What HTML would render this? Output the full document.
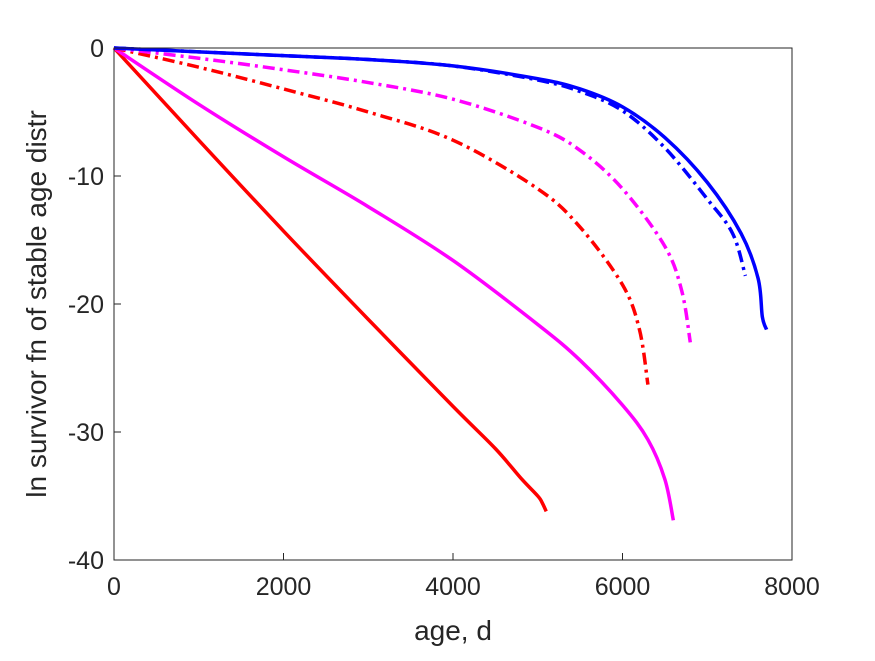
<!DOCTYPE html>
<html><head><meta charset="utf-8"><style>
body{margin:0;background:#fff;}
svg{font-family:"Liberation Sans",Arial,sans-serif;}
</style></head><body>
<svg id="chart" width="875" height="656">
<rect x="0" y="0" width="875" height="656" fill="#fff"/>
<g id="plot"></g>
<g id="axes"></g>
</svg>
<script>
const xTicks=[0,2000,4000,6000,8000];
const yTicks=[0,-10,-20,-30,-40];
const redSolidX=[0,1000,2000,3000,4000,4500,4800,5000,5050,5100];
const redSolidY=[0,-7.2,-14.3,-21.2,-28,-31.3,-33.6,-35,-35.5,-36.2];
const magSolidX=[0,1000,2000,3000,4000,5000,5500,6000,6300,6500,6600];
const magSolidY=[0,-4.4,-8.5,-12.4,-16.6,-21.6,-24.4,-27.9,-30.6,-33.7,-36.9];
const redDashX=[0,1000,2000,3000,4000,5000,5500,6000,6200,6300];
const redDashY=[0,-1.5,-3.2,-5.0,-7.2,-11,-14,-18.5,-22,-26.3];
const magDashX=[0,1000,2000,3000,4000,5000,5500,6000,6500,6700,6800];
const magDashY=[0,-0.8,-1.7,-2.7,-4.0,-6.2,-8,-11,-15.5,-19,-23];
const blueSolidX=[0,1000,2000,3000,4000,5000,5500,6000,6500,7000,7400,7600,7650,7700];
const blueSolidY=[0,-0.3,-0.6,-0.9,-1.4,-2.4,-3.2,-4.6,-7,-10.5,-14.5,-18,-21,-22];
const blueDashX=[0,1000,2000,3000,4000,5000,5500,6000,6500,7000,7300,7450];
const blueDashY=[0,-0.3,-0.6,-0.9,-1.4,-2.5,-3.4,-4.9,-7.8,-11.8,-14.5,-17.8];
const X0=114,X1=792,Y0=48,Y1=560;
function sx(v){return X0+(v-0)/8000*(X1-X0);}
function sy(v){return Y0+(0-v)/40*(Y1-Y0);}
const NS="http://www.w3.org/2000/svg";
const plot=document.getElementById('plot'),axes=document.getElementById('axes');
function line(xs,ys,color,dash,name){
  const pts=xs.map((x,i)=>[sx(x),sy(ys[i])]);
  let d='M'+pts[0][0]+','+pts[0][1];
  for(let i=0;i<pts.length-1;i++){
    const p0=pts[Math.max(i-1,0)],p1=pts[i],p2=pts[i+1],p3=pts[Math.min(i+2,pts.length-1)];
    const c1=[p1[0]+(p2[0]-p0[0])/6,p1[1]+(p2[1]-p0[1])/6];
    const c2=[p2[0]-(p3[0]-p1[0])/6,p2[1]-(p3[1]-p1[1])/6];
    d+=' C'+c1[0]+','+c1[1]+' '+c2[0]+','+c2[1]+' '+p2[0]+','+p2[1];
  }
  const p=document.createElementNS(NS,'path');
  p.setAttribute('d',d);
  p.setAttribute('fill','none');p.setAttribute('stroke',color);p.setAttribute('stroke-width','3.5');
  if(dash)p.setAttribute('stroke-dasharray','12,5,3,5');
  
  
  plot.appendChild(p);
}
line(redSolidX,redSolidY,'#ff0000',false,'red-solid-line');
line(magSolidX,magSolidY,'#ff00ff',false,'magenta-solid-line');
line(redDashX,redDashY,'#ff0000',true,'red-dashdot-line');
line(magDashX,magDashY,'#ff00ff',true,'magenta-dashdot-line');
line(blueDashX,blueDashY,'#0000ff',true,'blue-dashdot-line');
line(blueSolidX,blueSolidY,'#0000ff',false,'blue-solid-line');
const box=document.createElementNS(NS,'rect');
box.setAttribute('x',X0);box.setAttribute('y',Y0);box.setAttribute('width',X1-X0);box.setAttribute('height',Y1-Y0);
box.setAttribute('fill','none');box.setAttribute('stroke','#262626');box.setAttribute('stroke-width','1');


axes.appendChild(box);
xTicks.forEach(t=>{
  const l=document.createElementNS(NS,'line');
  l.setAttribute('x1',sx(t));l.setAttribute('x2',sx(t));l.setAttribute('y1',Y1);l.setAttribute('y2',Y1-7);l.setAttribute('stroke','#262626');
  
  
  axes.appendChild(l);
  const tx=document.createElementNS(NS,'text');
  tx.setAttribute('x',sx(t));tx.setAttribute('y',Y1+35);tx.setAttribute('text-anchor','middle');tx.setAttribute('font-size','25');tx.setAttribute('fill','#262626');
  tx.textContent=t;
  
  
  axes.appendChild(tx);
});
yTicks.forEach(t=>{
  const l=document.createElementNS(NS,'line');
  l.setAttribute('x1',X0);l.setAttribute('x2',X0+7);l.setAttribute('y1',sy(t));l.setAttribute('y2',sy(t));l.setAttribute('stroke','#262626');
  
  
  axes.appendChild(l);
  const tx=document.createElementNS(NS,'text');
  tx.setAttribute('x',X0-10);tx.setAttribute('y',sy(t)+9);tx.setAttribute('text-anchor','end');tx.setAttribute('font-size','25');tx.setAttribute('fill','#262626');
  tx.textContent=t;
  
  
  axes.appendChild(tx);
});
</script>
<svg style="position:absolute;left:0;top:0" width="875" height="656" font-family="Liberation Sans, Arial, sans-serif">
<text x="453" y="640" text-anchor="middle" font-size="28" fill="#262626">age, d</text>
<text transform="translate(46,304) rotate(-90)" text-anchor="middle" font-size="28" fill="#262626">ln survivor fn of stable age distr</text>
</svg>
</body></html>
